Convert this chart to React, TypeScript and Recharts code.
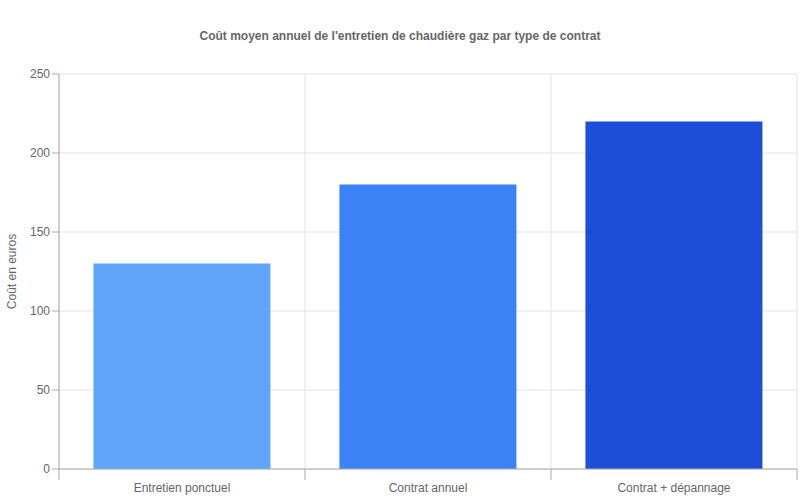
import React from 'react';
import { BarChart, Bar, XAxis, YAxis, CartesianGrid, Cell } from 'recharts';

const categories = ['Entretien ponctuel', 'Contrat annuel', 'Contrat + dépannage'];
const costs = [130, 180, 220];
const barColors = ['#60a5fa', '#3b82f6', '#1d4ed8'];
const yTicks = [0, 50, 100, 150, 200, 250];

const data = categories.map((name, i) => ({ name, cost: costs[i] }));

const font = '"Liberation Sans", Arial, sans-serif';

// category label plus the boundary tick marks between categories
function CategoryTick(props: any) {
  const { x, y, payload, index, width } = props;
  const band = width / categories.length;
  const axisY = y - 14;
  const left = x - band / 2;
  const right = x + band / 2;
  return (
    <g>
      <line x1={left} x2={left} y1={axisY} y2={axisY + 11} stroke="#aaa" />
      {index === categories.length - 1 && (
        <line x1={right} x2={right} y1={axisY} y2={axisY + 11} stroke="#aaa" />
      )}
      <text x={x} y={y} dy="0.71em" textAnchor="middle" fill="#666" fontSize={12} fontFamily={font}>
        {payload.value}
      </text>
    </g>
  );
}

export default function App() {
  return (
    <div style={{ position: 'relative', width: 800, height: 500, fontFamily: font }}>
      <style>{`body{margin:0}`}</style>
      <div
        style={{
          position: 'absolute',
          top: 29,
          left: 0,
          width: 800,
          textAlign: 'center',
          fontSize: 12,
          fontWeight: 'bold',
          color: '#666',
        }}
      >
        Coût moyen annuel de l'entretien de chaudière gaz par type de contrat
      </div>
      <BarChart
        width={800}
        height={500}
        data={data}
        margin={{ top: 74, right: 3, left: 0, bottom: 0 }}
        barCategoryGap="14%"
      >
        <CartesianGrid
          stroke="#e3e3e3"
          verticalCoordinatesGenerator={({ offset }: any) =>
            [0, 1, 2, 3].map((k) => offset.left + (k * offset.width) / categories.length)
          }
        />
        <XAxis
          dataKey="name"
          height={31}
          tickLine={false}
          axisLine={{ stroke: '#aaa' }}
          tick={<CategoryTick />}
          tickMargin={8}
        />
        <YAxis
          width={59}
          domain={[0, 250]}
          ticks={yTicks}
          axisLine={{ stroke: '#aaa' }}
          tickLine={{ stroke: '#aaa' }}
          tickSize={7}
          tick={{ fill: '#666', fontSize: 12, fontFamily: font }}
          label={{
            value: 'Coût en euros',
            angle: -90,
            position: 'insideLeft',
            offset: 12,
            style: { fill: '#666', fontSize: 12, fontFamily: font, textAnchor: 'middle' },
          }}
        />
        <Bar dataKey="cost" isAnimationActive={false}>
          {data.map((d, i) => (
            <Cell key={d.name} fill={barColors[i]} />
          ))}
        </Bar>
      </BarChart>
    </div>
  );
}
